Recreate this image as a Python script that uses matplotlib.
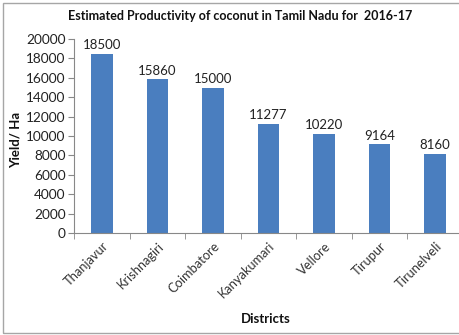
import matplotlib
matplotlib.use("Agg")
import matplotlib.pyplot as plt
from matplotlib.patches import Rectangle
import numpy as np

districts = ["Thanjavur", "Krishnagiri", "Coimbatore", "Kanyakumari",
             "Vellore", "Tirupur", "Tirunelveli"]
yield_per_ha = [18500, 15860, 15000, 11277, 10220, 9164, 8160]
y_ticks = [0, 2000, 4000, 6000, 8000, 10000, 12000, 14000, 16000, 18000, 20000]

plt.rcParams['font.family'] = ['Lato', 'DejaVu Sans']

W, H = 459, 335
fig = plt.figure(figsize=(W / 100, H / 100), dpi=100)

# outer chart frame (open on the right where the chart is cut off)
fig.add_artist(Rectangle((2.5 / W, 2.5 / H), 1.2, (H - 5) / H,
                         transform=fig.transFigure, fill=False,
                         edgecolor="#a6a6a6", linewidth=1.0))

ax = fig.add_axes([74 / W, (H - 233) / H, (463 - 74) / W, (233 - 39) / H])
x = np.arange(len(districts))
bars = ax.bar(x, yield_per_ha, width=0.39, color="#4a7ebf", zorder=2)

for xi, v in zip(x, yield_per_ha):
    ax.text(xi, v + 250, f"{v}", ha="center", va="bottom", fontsize=9.5,
            color="#222222")

ax.set_xlim(-0.5, len(districts) - 0.5)
ax.set_ylim(0, 20000)
ax.set_yticks(y_ticks)
ax.set_yticklabels([str(t) for t in y_ticks], fontsize=9.8, color="#222222")

ax.set_xticks(x)
ax.set_xticklabels(districts, rotation=45, ha="right", rotation_mode="anchor",
                   fontsize=9.3, color="#333333")
ax.set_xticks(np.arange(len(districts) + 1) - 0.5, minor=True)
ax.tick_params(axis="x", which="major", length=0, pad=5)
ax.tick_params(axis="x", which="minor", length=4, color="#888888")
ax.tick_params(axis="y", length=4, color="#888888", pad=2)

for s in ["top", "right"]:
    ax.spines[s].set_visible(False)
for s in ["left", "bottom"]:
    ax.spines[s].set_color("#888888")
    ax.spines[s].set_linewidth(0.8)

fig.text(240 / W, 1 - 16 / H,
         "Estimated Productivity of coconut in Tamil Nadu for  2016-17",
         ha="center", va="center", fontsize=9, fontweight="bold",
         color="#111111")
fig.text(16 / W, 1 - 140 / H, "Yield/ Ha", rotation=90, ha="center",
         va="center", fontsize=9.5, fontweight="bold", color="#111111")
fig.text(266 / W, 1 - 319 / H, "Districts", ha="center", va="center",
         fontsize=9.5, fontweight="bold", color="#111111")

fig.savefig("out.png", dpi=100)
